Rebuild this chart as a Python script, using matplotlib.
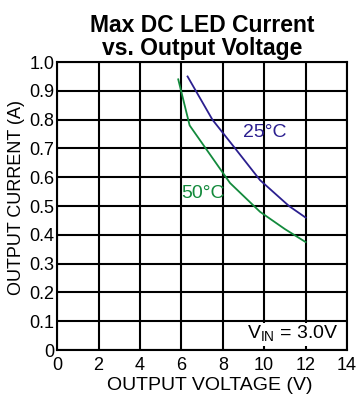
import matplotlib.pyplot as plt

plt.rcParams['font.family'] = ['Liberation Sans', 'DejaVu Sans']

# max LED current curves
v_25c = [6.3, 7.5, 8.6, 9.8, 11.2, 12.0]
i_25c = [0.95, 0.80, 0.70, 0.59, 0.50, 0.46]
v_50c = [5.85, 6.4, 8.35, 9.8, 11.0, 12.0]
i_50c = [0.94, 0.78, 0.58, 0.48, 0.42, 0.375]

xticks = [0, 2, 4, 6, 8, 10, 12, 14]
yticks = [0, 0.1, 0.2, 0.3, 0.4, 0.5, 0.6, 0.7, 0.8, 0.9, 1.0]
ylabels = ['0', '0.1', '0.2', '0.3', '0.4', '0.5', '0.6', '0.7', '0.8', '0.9', '1.0']

fig = plt.figure(figsize=(3.57, 3.98), dpi=100)
ax = fig.add_axes([0.16, 0.1206, 0.812, 0.7234])

ax.plot(v_25c, i_25c, color='#2b1f8f', lw=1.3)
ax.plot(v_50c, i_50c, color='#138a3c', lw=1.3)

ax.text(10.05, 0.755, '25°C', color='#2b1f8f', fontsize=14, ha='center', va='center')
ax.text(7.05, 0.545, '50°C', color='#138a3c', fontsize=14, ha='center', va='center')
ax.text(13.6, 0.055, r'V$_{\mathregular{IN}}$ = 3.0V', fontsize=14, ha='right', va='center',
        bbox=dict(facecolor='white', edgecolor='none', pad=1))

ax.set_xlim(0, 14)
ax.set_ylim(0, 1.0)
ax.set_xticks(xticks)
ax.set_yticks(yticks)
ax.set_yticklabels(ylabels)
ax.tick_params(length=0, labelsize=13)
ax.tick_params(axis='x', pad=5)
ax.tick_params(axis='y', pad=2)
ax.grid(True, color='black', lw=1.5)
ax.set_axisbelow(True)
for s in ax.spines.values():
    s.set_linewidth(1.5)

ax.set_xlabel('OUTPUT VOLTAGE (V)', fontsize=14)
ax.xaxis.set_label_coords(0.525, -0.095)
ax.set_ylabel('OUTPUT CURRENT (A)', fontsize=13)
ax.yaxis.set_label_coords(-0.11, 0.53)
ax.set_title('Max DC LED Current\nvs. Output Voltage', fontsize=16.5, fontweight='bold',
             linespacing=1.0, pad=5)

fig.savefig('out.png', dpi=100)
